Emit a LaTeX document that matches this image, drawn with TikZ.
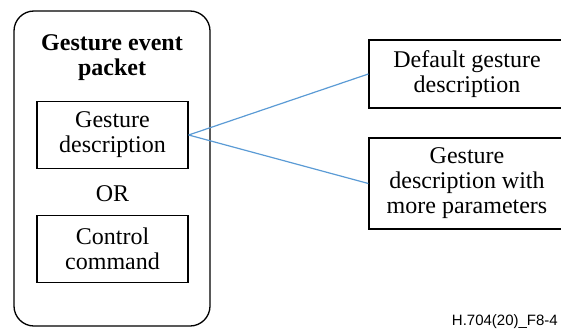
\documentclass[tikz,border=0pt]{standalone}
\usepackage{fontspec}
\setmainfont{Liberation Serif}
\setsansfont{Liberation Sans}
\usetikzlibrary{positioning}
\tikzset{
  box/.style={draw, line width=1.3pt, inner sep=0pt, align=center,
    minimum width=196pt, font=\fontsize{24}{25}\selectfont},
  inbox/.style={box, minimum width=151pt, minimum height=67pt},
  link/.style={draw={rgb,255:red,91;green,155;blue,213}, line width=1.2pt}
}
\begin{document}
\begin{tikzpicture}[x=1pt, y=-1pt]
\useasboundingbox (0,0) rectangle (561,329);
% Nodes
\node[box, rounded corners=20pt, minimum height=315pt] (packet) at (112,168.5) {};
\node[align=center, font=\fontsize{24}{25}\selectfont\bfseries] (title) at (112,58) {Gesture event\\packet};
\node[inbox] (gdesc) at (112.5,135) {Gesture\\description};
\node[font=\fontsize{24}{25}\selectfont] (or) at (112.5,194) {OR};
\node[inbox] (control) at (112.5,249) {Control\\command};
\node[box, minimum height=68pt] (default) at (467,74) {Default gesture\\description};
\node[box, minimum height=91pt] (params) at (467,183.5) {Gesture\\description with\\more parameters};
\node[anchor=base east, font=\sffamily\fontsize{15}{16}\selectfont, inner sep=0pt] (figid) at (558,325) {H.704(20)\_F8-4};

% Links
\draw[link] (gdesc.east) -- (default.west);
\draw[link] (gdesc.east) -- (params.west);
\end{tikzpicture}
\end{document}
